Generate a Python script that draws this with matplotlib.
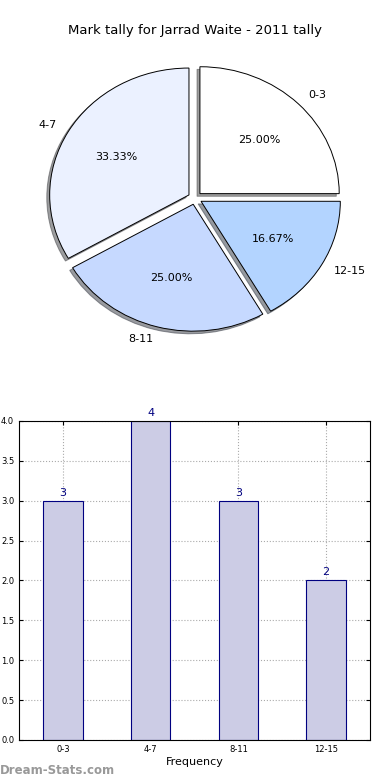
import matplotlib
matplotlib.use("Agg")
import matplotlib.pyplot as plt

# Veri
categories = ["0-3", "4-7", "8-11", "12-15"]
counts = [3, 4, 3, 2]
pie_colors = ["#FFFFFF", "#EBF1FF", "#C6D9FF", "#B3D4FF"]

fig = plt.figure(figsize=(3.9, 7.8), dpi=100)

# Pasta grafiği
ax_pie = fig.add_axes([0.05, 0.541, 0.9, 0.41])
wedges, texts, autotexts = ax_pie.pie(
    counts, labels=categories, colors=pie_colors, autopct="%.2f%%",
    explode=[0.05] * len(counts), shadow={"ox": -0.015, "oy": -0.015, "shade": 0.75},
    startangle=0,
    wedgeprops=dict(edgecolor="black", linewidth=0.7),
    textprops=dict(fontsize=8),
)
ax_pie.set_aspect("auto")
ax_pie.set_xlim(-1.26, 1.26)
ax_pie.set_ylim(-1.26, 1.26)
ax_pie.axis("off")
fig.text(0.5, 0.961, "Mark tally for Jarrad Waite - 2011 tally",
         ha="center", va="center", fontsize=9.5)

# Çubuk grafiği
ax_bar = fig.add_axes([0.0487, 0.0513, 0.9, 0.409])
x = range(len(categories))
ax_bar.bar(x, counts, width=0.45, color="#CCCCE5", edgecolor="#000080", linewidth=0.8, zorder=2)
for xi, c in zip(x, counts):
    ax_bar.text(xi, c + 0.04, str(c), ha="center", va="bottom", color="#000080", fontsize=8)
ax_bar.set_xlim(-0.5, len(categories) - 0.5)
ax_bar.set_ylim(0, 4)
ax_bar.set_yticks([i * 0.5 for i in range(9)])
ax_bar.set_xticks(list(x))
ax_bar.set_xticklabels(categories)
ax_bar.tick_params(labelsize=6, direction="in", top=True, right=True, length=3)
ax_bar.grid(True, linestyle=":", color="#AAAAAA", linewidth=0.8, zorder=0)
ax_bar.set_axisbelow(True)
ax_bar.set_xlabel("Frequency", fontsize=8, labelpad=2)

fig.text(0.0, 0.012, "Dream-Stats.com", color="#999999", fontsize=8.5,
         fontweight="bold", ha="left", va="center")

fig.savefig("out.png", dpi=100)
